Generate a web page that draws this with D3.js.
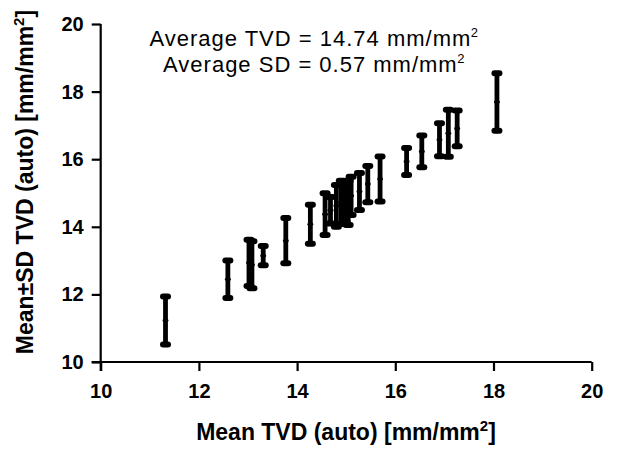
<!DOCTYPE html>
<html>
<head>
<meta charset="utf-8">
<script src="https://cdn.jsdelivr.net/npm/d3@7"></script>
<style>
  body { margin: 0; background: #fff; }
  svg { font-family: "Liberation Sans", Arial, sans-serif; }
</style>
</head>
<body>
<svg></svg>
<script>
const svgWidth = 627;
const svgHeight = 455;

// mean TVD (auto) per subject and the mean±SD range drawn on y
const meanTVD = [11.32, 12.59, 13.02, 13.08, 13.31, 13.77, 14.27, 14.57, 14.68, 14.80, 14.90, 14.98, 15.04, 15.10, 15.27, 15.44, 15.69, 16.23, 16.54, 16.90, 17.08, 17.26, 18.07];
const upperSD = [11.94, 13.00, 13.62, 13.57, 13.43, 14.26, 14.65, 14.99, 14.88, 15.24, 15.36, 15.33, 15.36, 15.48, 15.59, 15.80, 16.08, 16.33, 16.70, 17.06, 17.46, 17.44, 18.54];
const lowerSD = [10.52, 11.89, 12.25, 12.18, 12.86, 12.92, 13.50, 13.76, 14.10, 14.00, 14.08, 14.14, 14.05, 14.35, 14.50, 14.73, 14.75, 15.53, 15.76, 16.09, 16.07, 16.38, 16.84];

const xTicks = [10, 12, 14, 16, 18, 20];
const yTicks = [10, 12, 14, 16, 18, 20];

const avgLines = [
  {text: "Average TVD = 14.74 mm/mm", sup: "2"},
  {text: "Average SD = 0.57 mm/mm", sup: "2"}
];

const data = meanTVD.map((m, i) => ({x: m, hi: upperSD[i], lo: lowerSD[i]}));

const svg = d3.select("svg")
  .attr("width", svgWidth)
  .attr("height", svgHeight);

const x = d3.scaleLinear().domain([10, 20]).range([100.7, 591.7]);
const y = d3.scaleLinear().domain([10, 20]).range([362, 24]);

// axes
const xAxis = svg.append("g")
  .attr("transform", `translate(0,${y(10)})`)
  .call(d3.axisBottom(x).tickValues(xTicks).tickSize(9).tickPadding(13).tickSizeOuter(0));

const yAxis = svg.append("g")
  .attr("transform", `translate(${x(10)},0)`)
  .call(d3.axisLeft(y).tickValues(yTicks).tickSize(9).tickPadding(8).tickSizeOuter(0));

[xAxis, yAxis].forEach(g => {
  g.select(".domain").attr("stroke", "#000").attr("stroke-width", 2.2);
  g.selectAll(".tick line").attr("stroke", "#000").attr("stroke-width", 2.2);
  g.selectAll(".tick text")
    .attr("fill", "#000")
    .attr("font-size", 20)
    .attr("font-weight", "bold")
    .attr("font-family", "Liberation Sans, Arial, sans-serif");
});
// let the axis lines run through the ticks at 10
xAxis.select(".domain").attr("d", `M${x(10) - 9},0H${x(20)}`);
yAxis.select(".domain").attr("d", `M0,${y(10) + 9}V${y(20)}`);

// error bars
const bars = svg.append("g").attr("stroke", "#000").attr("stroke-linecap", "round");

bars.selectAll(".stem")
  .data(data)
  .enter()
  .append("line")
  .attr("x1", d => x(d.x))
  .attr("x2", d => x(d.x))
  .attr("y1", d => y(d.hi))
  .attr("y2", d => y(d.lo))
  .attr("stroke-width", 4.8);

["hi", "lo"].forEach(k => {
  bars.selectAll(".cap-" + k)
    .data(data)
    .enter()
    .append("line")
    .attr("x1", d => x(d.x) - 2.5)
    .attr("x2", d => x(d.x) + 2.5)
    .attr("y1", d => y(d[k]))
    .attr("y2", d => y(d[k]))
    .attr("stroke-width", 6);
});

bars.selectAll(".mid")
  .data(data)
  .enter()
  .append("line")
  .attr("x1", d => x(d.x) - 1.2)
  .attr("x2", d => x(d.x) + 1.2)
  .attr("y1", d => y((d.hi + d.lo) / 2))
  .attr("y2", d => y((d.hi + d.lo) / 2))
  .attr("stroke-width", 3.5);

// annotation: main text and superscript as separate texts, centred together
avgLines.forEach((l, i) => {
  const base = 46 + i * 25.5;
  const main = svg.append("text")
    .attr("y", base)
    .attr("font-size", 22)
    .attr("letter-spacing", 1)
    .attr("fill", "#000")
    .text(l.text);
  const sup = svg.append("text")
    .attr("y", base - 9)
    .attr("font-size", 13)
    .attr("fill", "#000")
    .text(l.sup);
  const w1 = main.node().getComputedTextLength();
  const w2 = sup.node().getComputedTextLength();
  const start = 314 - (w1 + w2) / 2;
  main.attr("x", start);
  sup.attr("x", start + w1 - 0.5);
});

// axis titles
const xTitle = svg.append("text")
  .attr("x", 346)
  .attr("y", 440)
  .attr("text-anchor", "middle")
  .attr("font-size", 23)
  .attr("font-weight", "bold")
  .attr("fill", "#000");
xTitle.append("tspan").text("Mean TVD (auto) [mm/mm");
xTitle.append("tspan").attr("dy", -9).attr("font-size", 15).text("2");
xTitle.append("tspan").attr("dy", 9).text("]");

const yTitle = svg.append("text")
  .attr("transform", "translate(33,182) rotate(-90)")
  .attr("text-anchor", "middle")
  .attr("font-size", 23)
  .attr("font-weight", "bold")
  .attr("fill", "#000");
yTitle.append("tspan").text("Mean±SD TVD (auto) [mm/mm");
yTitle.append("tspan").attr("dy", -9).attr("font-size", 15).text("2");
yTitle.append("tspan").attr("dy", 9).text("]");
</script>
</body>
</html>
